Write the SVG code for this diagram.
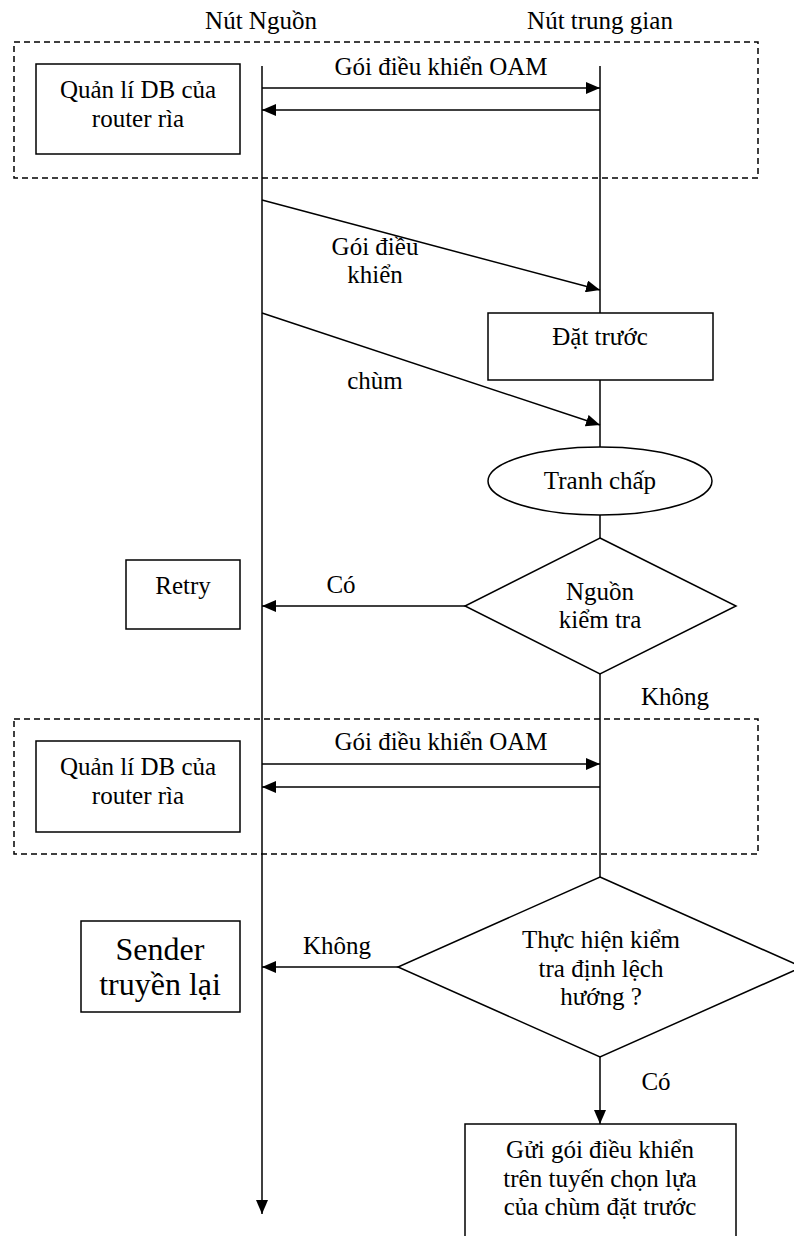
<svg xmlns="http://www.w3.org/2000/svg" width="794" height="1236" viewBox="0 0 794 1236">
<defs>
<style>
text{font-family:"Liberation Serif","Times New Roman",serif;font-size:25px;fill:#000;text-anchor:middle}
.big{font-size:32px}
.line{stroke:#000;stroke-width:1.5;fill:none}
.node{stroke:#000;stroke-width:1.5;fill:#fff}
.dash{stroke:#000;stroke-width:1.5;fill:none;stroke-dasharray:6 4}
</style>
<marker id="arr" viewBox="0 0 14 12" refX="14" refY="6" markerWidth="14" markerHeight="12" markerUnits="userSpaceOnUse" orient="auto">
<path d="M0,0 L14,6 L0,12 z" fill="#000"/>
</marker>
</defs>
<rect width="794" height="1236" fill="#fff"/>

<g id="headers">
<text x="261" y="29">Nút Nguồn</text>
<text x="600" y="29">Nút trung gian</text>
</g>

<g id="group-oam-1">
<rect class="dash" x="14" y="42" width="744" height="136"/>
</g>
<g id="group-oam-2">
<rect class="dash" x="14" y="719" width="744" height="135"/>
</g>

<g id="connectors">
<line class="line" x1="262" y1="66" x2="262" y2="1214" marker-end="url(#arr)"/>
<line class="line" x1="600" y1="66" x2="600" y2="313"/>
<line class="line" x1="600" y1="380" x2="600" y2="447"/>
<line class="line" x1="600" y1="515" x2="600" y2="538"/>
<line class="line" x1="600" y1="674" x2="600" y2="877"/>
<line class="line" x1="600" y1="1057" x2="600" y2="1124" marker-end="url(#arr)"/>
<line class="line" x1="262" y1="88" x2="600" y2="88" marker-end="url(#arr)"/>
<line class="line" x1="600" y1="110" x2="262" y2="110" marker-end="url(#arr)"/>
<line class="line" x1="262" y1="200" x2="600" y2="290" marker-end="url(#arr)"/>
<line class="line" x1="262" y1="313" x2="600" y2="425" marker-end="url(#arr)"/>
<line class="line" x1="465" y1="606" x2="262" y2="606" marker-end="url(#arr)"/>
<line class="line" x1="262" y1="764" x2="600" y2="764" marker-end="url(#arr)"/>
<line class="line" x1="600" y1="787" x2="262" y2="787" marker-end="url(#arr)"/>
<line class="line" x1="398" y1="967" x2="262" y2="967" marker-end="url(#arr)"/>
<text x="441" y="75">Gói điều khiển OAM</text>
<text x="375" y="255">Gói điều</text>
<text x="375" y="283">khiển</text>
<text x="375" y="389">chùm</text>
<text x="341" y="593">Có</text>
<text x="675" y="705">Không</text>
<text x="441" y="750">Gói điều khiển OAM</text>
<text x="337" y="954">Không</text>
<text x="656" y="1090">Có</text>
</g>

<g id="db1">
<rect class="node" x="36" y="64" width="204" height="90"/>
<text x="138" y="98">Quản lí DB của</text>
<text x="138" y="127">router rìa</text>
</g>

<g id="dat-truoc">
<rect class="node" x="488" y="313" width="225" height="67"/>
<text x="600" y="345">Đặt trước</text>
</g>

<g id="tranh-chap">
<ellipse class="node" cx="600" cy="481" rx="112" ry="34"/>
<text x="600" y="489">Tranh chấp</text>
</g>

<g id="nguon-kiem-tra">
<polygon class="node" points="600,538 736,606 600,674 465,606"/>
<text x="600" y="600">Nguồn</text>
<text x="600" y="628">kiểm tra</text>
</g>

<g id="retry">
<rect class="node" x="126" y="560" width="114" height="69"/>
<text x="183" y="594">Retry</text>
</g>

<g id="db2">
<rect class="node" x="36" y="741" width="204" height="91"/>
<text x="138" y="775">Quản lí DB của</text>
<text x="138" y="804">router rìa</text>
</g>

<g id="kiem-tra-lech-huong">
<polygon class="node" points="600,877 802,967 600,1057 398,967"/>
<text x="601" y="948">Thực hiện kiểm</text>
<text x="601" y="977">tra định lệch</text>
<text x="601" y="1005">hướng ?</text>
</g>

<g id="sender">
<rect class="node" x="81" y="921" width="159" height="91"/>
<text class="big" x="160" y="960">Sender</text>
<text class="big" x="160" y="995">truyền lại</text>
</g>

<g id="gui-goi">
<rect class="node" x="465" y="1124" width="271" height="120"/>
<text x="600" y="1158">Gửi gói điều khiển</text>
<text x="600" y="1187">trên tuyến chọn lựa</text>
<text x="600" y="1215">của chùm đặt trước</text>
</g>
</svg>
